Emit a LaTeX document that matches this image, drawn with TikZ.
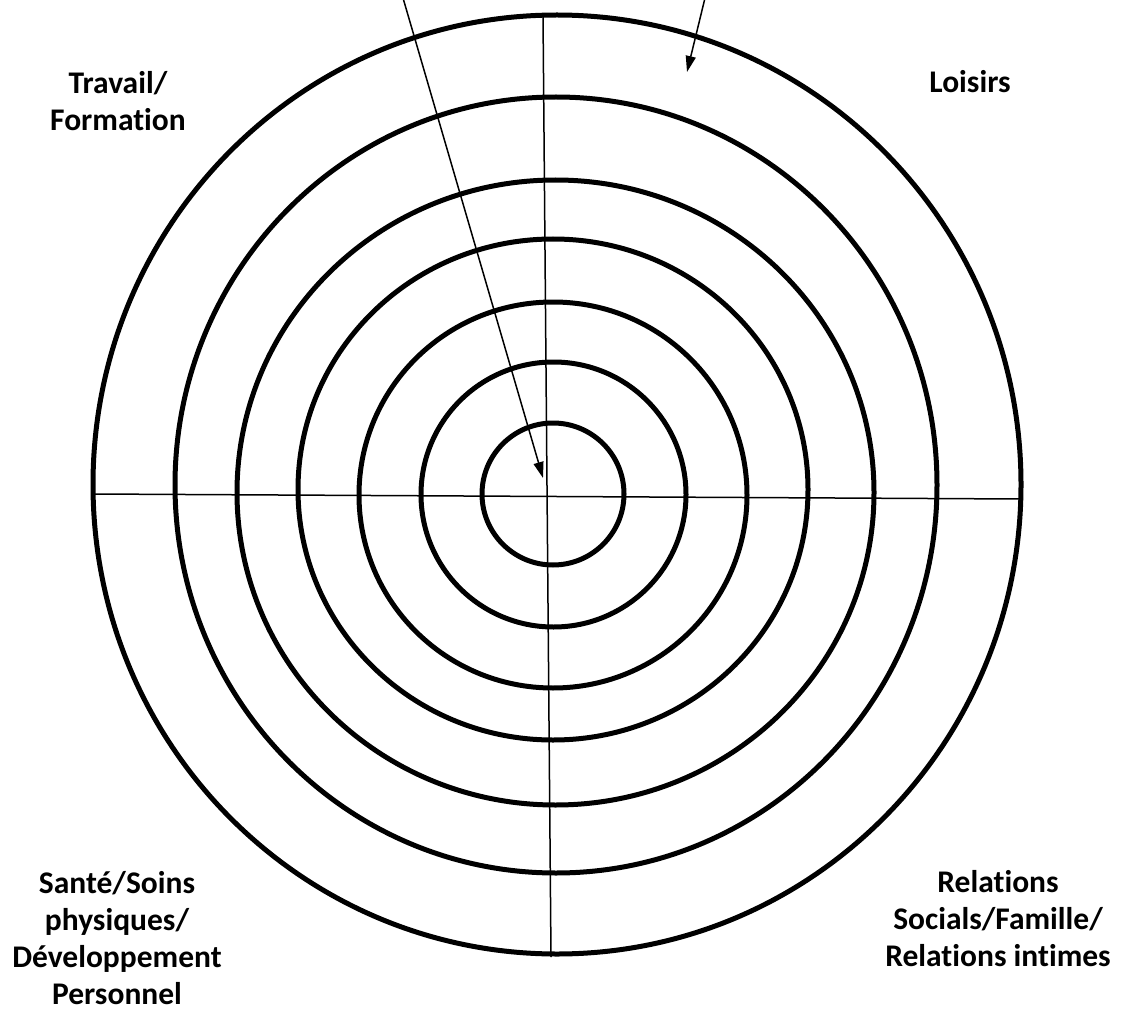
\documentclass[tikz,border=0pt]{standalone}
\usepackage{fontspec}
\setmainfont[Ligatures=NoCommon]{Carlito}
\usetikzlibrary{arrows.meta}
\begin{document}
\begin{tikzpicture}[x=1pt,y=-1pt,
  ring/.style={line width=5pt},
  axis/.style={line width=1.5pt},
  pointer/.style={line width=1.5pt,-{Triangle[length=16pt,width=10pt]}},
  lab/.style={font=\fontsize{31.5}{37}\selectfont\bfseries,align=center,inner sep=0pt}]
\useasboundingbox (0,0) rectangle (1122,1011);
% rings
\draw[ring] (557,484.5) ellipse [x radius=464pt, y radius=469.5pt];
\draw[ring] (556,485) ellipse [x radius=381pt, y radius=388pt];
\draw[ring] (555.5,492.5) ellipse [x radius=318.5pt, y radius=312.5pt];
\draw[ring] (553,489.5) ellipse [x radius=255pt, y radius=250.5pt];
\draw[ring] (553,495) ellipse [x radius=194pt, y radius=193pt];
\draw[ring] (553.5,494.5) ellipse [x radius=132.5pt, y radius=132.5pt];
\draw[ring] (553,494) ellipse [x radius=71pt, y radius=71pt];
% axes
\coordinate (hl) at (93,494);
\coordinate (hr) at (1021,499);
\coordinate (vt) at (543,15);
\coordinate (vb) at (551,957);
\draw[axis] (hl) -- (hr);
\draw[axis] (vt) -- (vb);
% pointers
\coordinate (p1s) at (403,-2);
\coordinate (p1e) at (543,478);
\coordinate (p2s) at (705,-2);
\coordinate (p2e) at (687,72);
\draw[pointer] (p1s) -- (p1e);
\draw[pointer] (p2s) -- (p2e);
% labels
\node[lab] (travail) at (118,101) {Travail/\\Formation};
\node[lab] (loisirs) at (970,82) {Loisirs};
\node[lab] (sante) at (117,938) {Santé/Soins\\physiques/\\Développement\\Personnel};
\node[lab] (relations) at (998,919) {Relations\\Socials/Famille/\\Relations intimes};
\end{tikzpicture}
\end{document}
